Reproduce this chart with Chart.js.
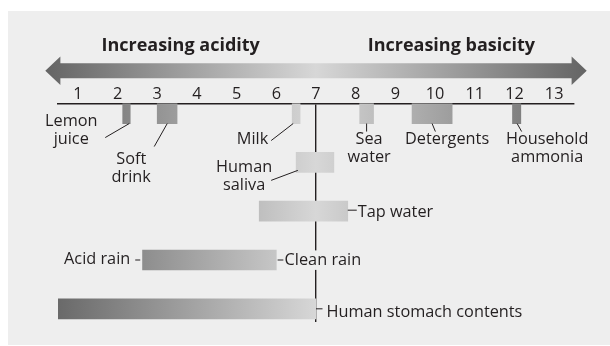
<!DOCTYPE html>
<html>
<head>
<meta charset="utf-8">
<title>The pH scale</title>
<script src="https://cdn.jsdelivr.net/npm/chart.js@4.4.1/dist/chart.umd.min.js"></script>
<style>
  html, body { margin: 0; padding: 0; background: #ffffff; }
  #stage { position: relative; width: 610px; height: 346px; overflow: hidden; }
  #panel { position: absolute; left: 8px; top: 11px; right: 0; bottom: 1px; background: #eeeeee; }
  #ph { position: absolute; left: 0; top: 0; }
</style>
</head>
<body>
<div id="stage">
  <div id="panel"></div>
  <canvas id="ph" width="610" height="346"></canvas>
</div>
<script>
// ---- data -------------------------------------------------------------
const PH_TICKS = [1, 2, 3, 4, 5, 6, 7, 8, 9, 10, 11, 12, 13];

const SUBSTANCES = [
  'Lemon juice', 'Soft drink', 'Milk', 'Sea water', 'Detergents',
  'Household ammonia', 'Human saliva', 'Tap water', 'Acid rain',
  'Human stomach contents'
];
const PH_LOW  = [2.13, 3.0, 6.4, 8.1,  9.42, 11.95, 6.5,  5.57, 2.63, 0.5];
const PH_HIGH = [2.32, 3.5, 6.6, 8.45, 10.43, 12.16, 7.45, 7.8, 6.0,  7.0];
const ROW     = [0, 0, 0, 0, 0, 0, 1, 2, 3, 4];

const RAIN_CLEAN = 'Clean rain';
const TITLE_ACID = 'Increasing acidity';
const TITLE_BASE = 'Increasing basicity';

// ---- look ---------------------------------------------------------------
const INK = '#231f20';
const PANEL_BG = '#eeeeee';
const FONT_FAMILY = '"Open Sans", "Noto Sans", sans-serif';
const LABEL_SIZE = 16.3;
const LINE_STEP = 18.4;
const NEUTRAL = 7;
const SCALE_SHADE = { dark: '#646464', light: '#d7d7d7', from: 0.18, to: 13.82 };
const ARROW = { from: 0.18, to: 13.82, head: 0.38, lift: 32.5, shaft: 7.5, wing: 14.2 };

Chart.defaults.font.family = FONT_FAMILY;
Chart.defaults.color = INK;

// One shared horizontal shade: dark at both ends of the scale, light at neutral.
let shadeCache = null;
function phShade(chart) {
  const xs = chart.scales.x;
  const a = xs.getPixelForValue(SCALE_SHADE.from);
  const b = xs.getPixelForValue(SCALE_SHADE.to);
  const key = a + ':' + b;
  if (shadeCache && shadeCache.key === key) return shadeCache.grad;
  const g = chart.ctx.createLinearGradient(a, 0, b, 0);
  const mid = (NEUTRAL - SCALE_SHADE.from) / (SCALE_SHADE.to - SCALE_SHADE.from);
  g.addColorStop(0, SCALE_SHADE.dark);
  g.addColorStop(mid, SCALE_SHADE.light);
  g.addColorStop(1, SCALE_SHADE.dark);
  shadeCache = { key, grad: g };
  return g;
}

// Where each callout sits relative to its bar (g = bar geometry in pixels).
const CALLOUT_LAYOUT = [
  g => ({ leader: [g.hi - 1, g.bottom, g.hi - 25, g.bottom + 14], x: g.hi - 59, y: g.bottom + 2.2, align: 'center', wrap: true }),
  g => ({ leader: [g.lo + 10, g.bottom, g.lo - 3, g.bottom + 23], x: g.lo - 26, y: g.bottom + 40, align: 'center', wrap: true }),
  g => ({ leader: [g.lo + 1, g.bottom, g.lo - 21, g.bottom + 17], x: g.lo - 24, y: g.bottom + 20.5, align: 'right' }),
  g => ({ leader: [g.mid, g.bottom, g.mid, g.bottom + 8], x: g.mid + 2.5, y: g.bottom + 20.5, align: 'center', wrap: true }),
  g => ({ leader: [g.mid, g.bottom, g.mid + 3.3, g.bottom + 8], x: g.mid + 15, y: g.bottom + 20.5, align: 'center' }),
  g => ({ leader: [g.mid + 0.5, g.bottom, g.mid + 5, g.bottom + 8], x: g.mid + 30.5, y: g.bottom + 20.5, align: 'center', wrap: true }),
  g => ({ leader: [g.lo + 1.7, g.bottom - 2, g.lo - 25, g.bottom + 8], x: g.lo - 52, y: g.bottom - 0.8, align: 'center', wrap: true }),
  g => ({ leader: [g.hi, g.cy - 1, g.hi + 9, g.cy - 1], x: g.hi + 10, y: g.cy + 5.7, align: 'left' }),
  g => ({ leader: [g.lo - 7.3, g.cy, g.lo - 2.3, g.cy], x: g.lo - 12.3, y: g.cy + 4, align: 'right' }),
  g => ({ leader: [g.hi, g.cy, g.hi + 6.5, g.cy], x: g.hi + 10.5, y: g.cy + 8, align: 'left' })
];
const RAIN_ROW_INDEX = SUBSTANCES.indexOf('Acid rain');
const CLEAN_LAYOUT = g => ({ leader: [g.hi + 1.3, g.cy, g.hi + 7.3, g.cy], x: g.hi + 8.3, y: g.cy + 5.4, align: 'left', backed: true });

function barGeometry(el) {
  const lo = Math.min(el.base, el.x), hi = Math.max(el.base, el.x);
  const h = el.height;
  return { lo, hi, mid: (lo + hi) / 2, cy: el.y, top: el.y - h / 2, bottom: el.y + h / 2 };
}

function drawCallout(ctx, text, spec) {
  const [x1, y1, x2, y2] = spec.leader;
  ctx.beginPath();
  ctx.moveTo(x1, y1);
  ctx.lineTo(x2, y2);
  ctx.stroke();
  const lines = spec.wrap ? [text.slice(0, text.indexOf(' ')), text.slice(text.indexOf(' ') + 1)] : [text];
  ctx.textAlign = spec.align;
  ctx.textBaseline = 'alphabetic';
  lines.forEach((line, k) => {
    const y = spec.y + k * LINE_STEP;
    if (spec.backed) {
      const w = ctx.measureText(line).width;
      const left = spec.align === 'left' ? spec.x : spec.align === 'right' ? spec.x - w : spec.x - w / 2;
      ctx.save();
      ctx.fillStyle = PANEL_BG;
      ctx.fillRect(left - 1, y - 15, w + 2, 19.5);
      ctx.restore();
    }
    ctx.fillText(line, spec.x, y);
  });
}

const calloutPlugin = {
  id: 'phCallouts',
  afterDatasetsDraw(chart) {
    const ctx = chart.ctx;
    const bars = chart.getDatasetMeta(0).data;
    ctx.save();
    ctx.strokeStyle = INK;
    ctx.fillStyle = INK;
    ctx.lineWidth = 1;
    ctx.font = LABEL_SIZE + 'px ' + FONT_FAMILY;
    SUBSTANCES.forEach((name, i) => {
      const g = barGeometry(bars[i]);
      drawCallout(ctx, name, CALLOUT_LAYOUT[i](g));
      if (i === RAIN_ROW_INDEX) drawCallout(ctx, RAIN_CLEAN, CLEAN_LAYOUT(g));
    });
    ctx.restore();
  }
};

// Double-headed shaded arrow with the two headings above it.
const arrowPlugin = {
  id: 'phArrow',
  afterDraw(chart) {
    const ctx = chart.ctx;
    const xs = chart.scales.x;
    const cy = chart.chartArea.top - ARROW.lift;
    const l = xs.getPixelForValue(ARROW.from);
    const r = xs.getPixelForValue(ARROW.to);
    const lb = xs.getPixelForValue(ARROW.from + ARROW.head);
    const rb = xs.getPixelForValue(ARROW.to - ARROW.head);
    ctx.save();
    ctx.fillStyle = phShade(chart);
    ctx.beginPath();
    ctx.moveTo(l, cy);
    ctx.lineTo(lb, cy - ARROW.wing);
    ctx.lineTo(lb, cy - ARROW.shaft);
    ctx.lineTo(rb, cy - ARROW.shaft);
    ctx.lineTo(rb, cy - ARROW.wing);
    ctx.lineTo(r, cy);
    ctx.lineTo(rb, cy + ARROW.wing);
    ctx.lineTo(rb, cy + ARROW.shaft);
    ctx.lineTo(lb, cy + ARROW.shaft);
    ctx.lineTo(lb, cy + ARROW.wing);
    ctx.closePath();
    ctx.fill();

    const n = xs.getPixelForValue(NEUTRAL);
    ctx.fillStyle = INK;
    ctx.font = 'bold 18px ' + FONT_FAMILY;
    ctx.textAlign = 'center';
    ctx.textBaseline = 'alphabetic';
    const base = cy - 20;
    ctx.fillText(TITLE_ACID, (l + n) / 2, base);
    ctx.fillText(TITLE_BASE, (n + r) / 2, base);
    ctx.restore();
  }
};

new Chart(document.getElementById('ph'), {
  type: 'bar',
  data: {
    datasets: [{
      label: 'pH range',
      data: SUBSTANCES.map((s, i) => ({ x: [PH_LOW[i], PH_HIGH[i]], y: ROW[i] })),
      backgroundColor: c => (c.chart.chartArea ? phShade(c.chart) : '#aaaaaa'),
      borderWidth: 0,
      barThickness: 20
    }]
  },
  options: {
    indexAxis: 'y',
    responsive: false,
    animation: false,
    events: [],
    layout: { padding: { left: 58, right: 36, top: 85, bottom: 24 } },
    plugins: {
      legend: { display: false },
      tooltip: { enabled: false },
      title: { display: false }
    },
    scales: {
      x: {
        type: 'linear',
        position: 'top',
        min: 0.5,
        max: 13.5,
        afterBuildTicks: scale => { scale.ticks = PH_TICKS.map(v => ({ value: v })); },
        ticks: {
          color: INK,
          font: { size: LABEL_SIZE, lineHeight: 1 },
          padding: 1,
          autoSkip: false,
          maxRotation: 0
        },
        grid: {
          drawTicks: false,
          lineWidth: 1.4,
          color: c => (c.tick && c.tick.value === NEUTRAL ? INK : 'rgba(0,0,0,0)')
        },
        border: { display: true, color: INK, width: 1.4 }
      },
      y: {
        type: 'linear',
        reverse: true,
        offset: false,
        min: -0.21,
        max: 4.27,
        display: false
      }
    }
  },
  plugins: [calloutPlugin, arrowPlugin]
});
</script>
</body>
</html>
